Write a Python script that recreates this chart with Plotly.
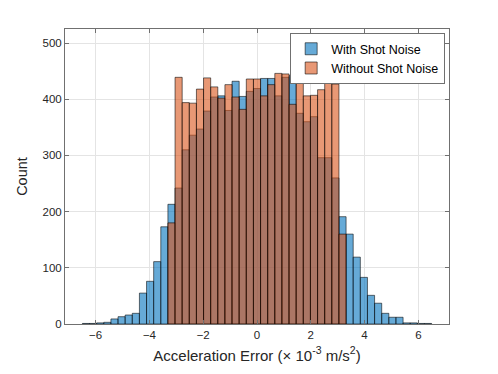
import plotly.graph_objects as go

# Histogram bins: index k, bin width (x in units of 1e-3 m/s^2)
bin_width = 0.265
blue_bins = list(range(-24, 25))
blue_counts = [1, 1, 2, 3, 9, 13, 16, 19, 55, 76, 111, 173,
               213, 242, 310, 336, 347, 379, 404, 406, 380, 432, 405, 414,
               419,
               437, 437, 406, 439, 442, 375, 360, 369, 296, 296, 260, 191,
               160, 119, 83, 51, 37, 19, 12, 12, 2, 2, 1, 1]
orange_bins = list(range(-12, 13))
orange_counts = [180, 439, 394, 393, 418, 438, 422, 402, 426, 404, 382, 436,
                 436,
                 406, 426, 446, 445, 391, 448, 406, 407, 417, 442, 427, 160]

blue_x = [k * bin_width for k in blue_bins]
orange_x = [k * bin_width for k in orange_bins]

x_ticks = [-6, -4, -2, 0, 2, 4, 6]
y_ticks = [0, 100, 200, 300, 400, 500]

fig = go.Figure()
fig.add_trace(go.Bar(
    x=blue_x, y=blue_counts, width=bin_width, name="With Shot Noise",
    marker=dict(color="rgba(0,114,189,0.6)",
                line=dict(color="rgba(0,0,0,0.7)", width=0.8)),
))
fig.add_trace(go.Bar(
    x=orange_x, y=orange_counts, width=bin_width, name="Without Shot Noise",
    marker=dict(color="rgba(217,83,25,0.6)",
                line=dict(color="rgba(0,0,0,0.7)", width=0.8)),
))

axis_common = dict(
    showline=True, linecolor="#707070", linewidth=1, mirror="allticks",
    ticks="inside", ticklen=4, tickcolor="#707070",
    showgrid=True, gridcolor="#e4e4e4", gridwidth=1, zeroline=False,
    tickfont=dict(family="Liberation Sans, Arial", size=11.5, color="#262626"),
)

fig.update_layout(
    barmode="overlay",
    width=498, height=374,
    margin=dict(l=65, r=49, t=29, b=50),
    paper_bgcolor="white", plot_bgcolor="white",
    font=dict(family="Liberation Sans, Arial", color="#262626"),
    xaxis=dict(range=[-7.14, 7.14], tickvals=x_ticks,
               title=dict(text="Acceleration Error (× 10<sup>-3</sup> m/s<sup>2</sup>)",
                          font=dict(size=15), standoff=10),
               **axis_common),
    yaxis=dict(range=[0, 525], tickvals=y_ticks,
               title=dict(text="Count", font=dict(size=14.5), standoff=11),
               **axis_common),
    legend=dict(x=0.99, y=0.986, xanchor="right", yanchor="top",
                bgcolor="white", bordercolor="#707070", borderwidth=1,
                font=dict(size=12.5, color="#000000"),
                tracegroupgap=0, itemwidth=30),
)

fig.write_html("out.html", config={"displayModeBar": False},
               post_script="document.body.style.margin='0';")
